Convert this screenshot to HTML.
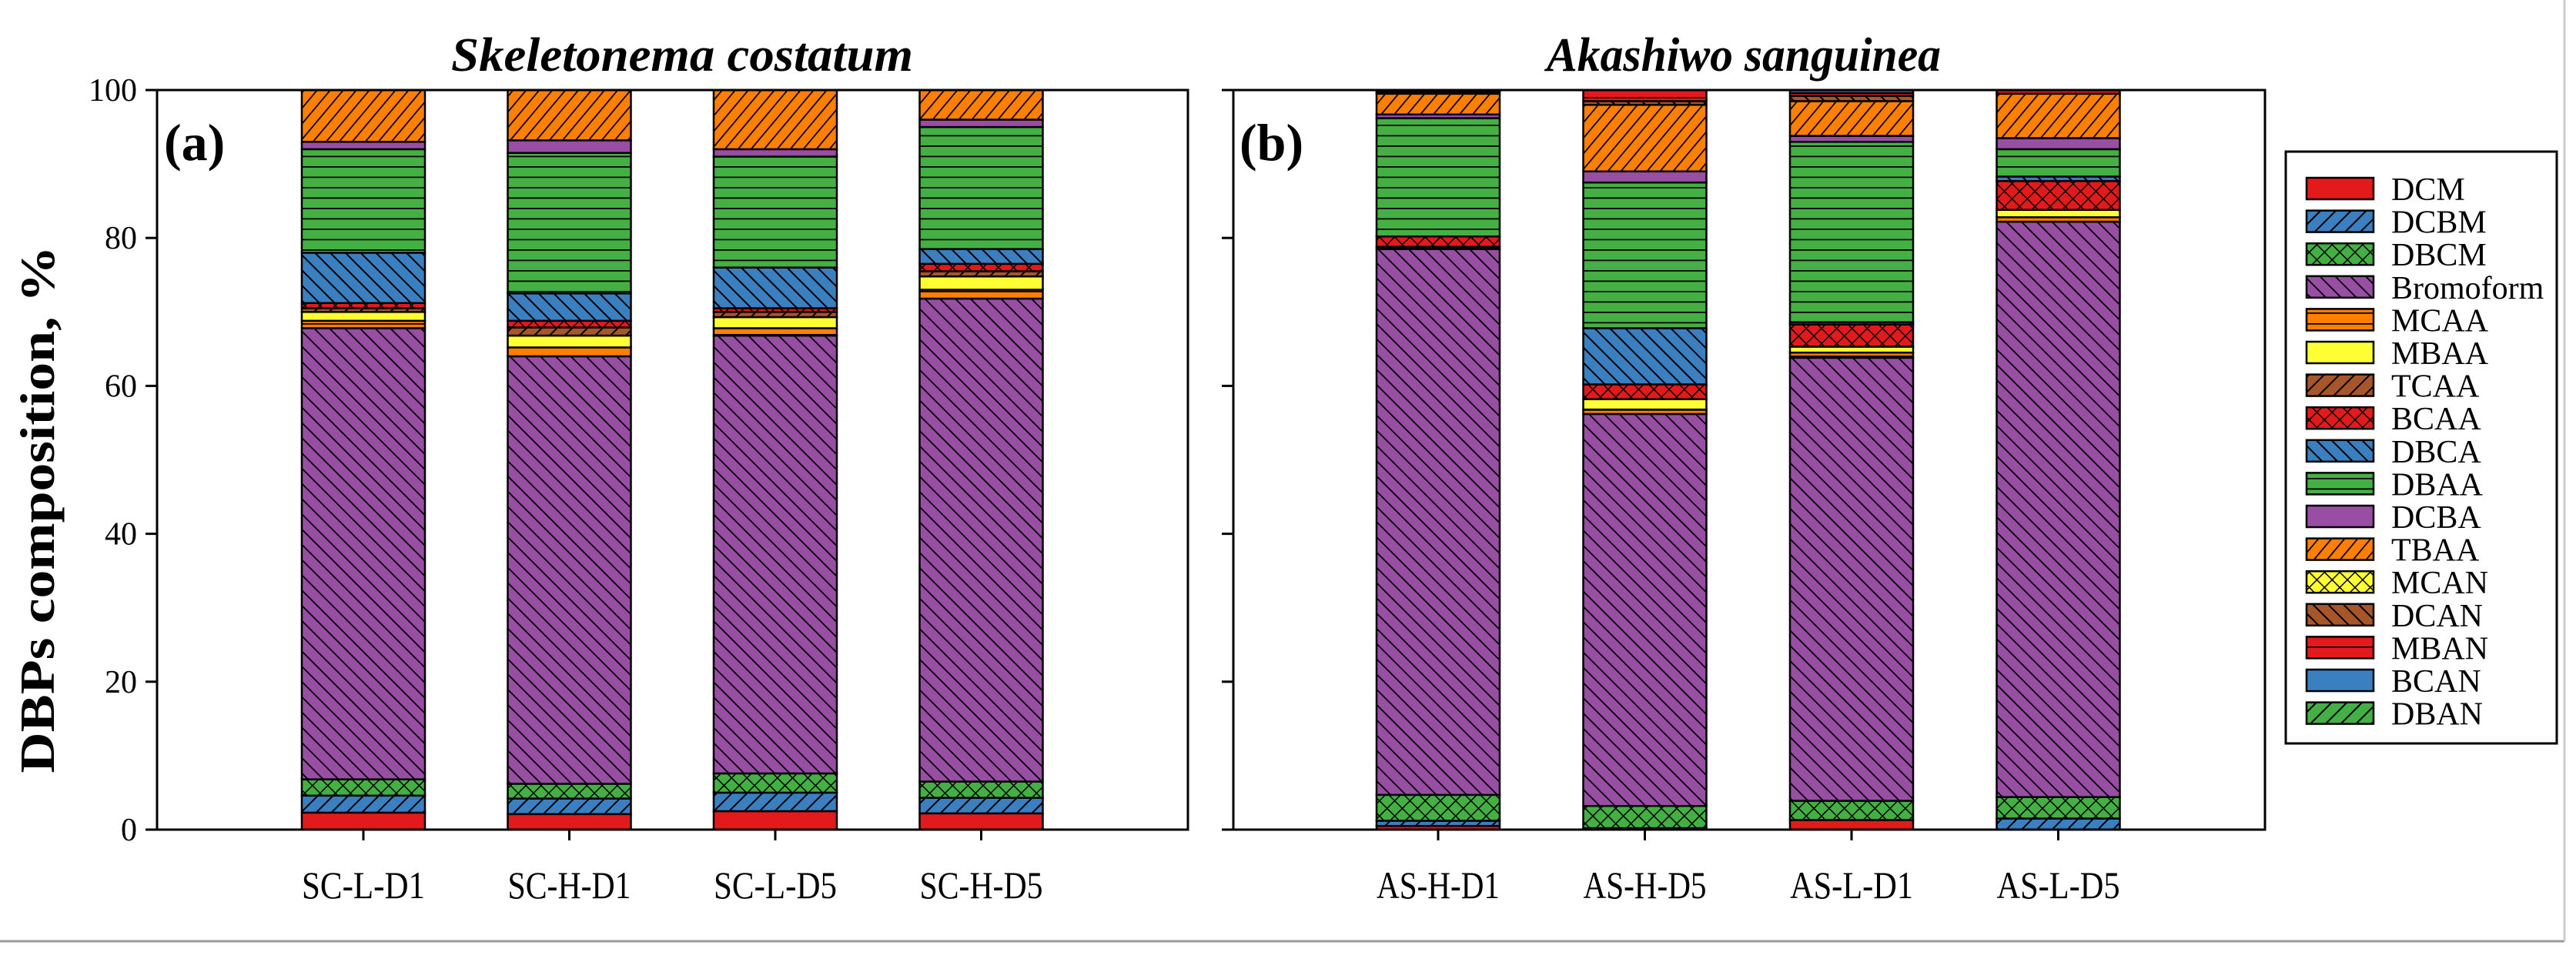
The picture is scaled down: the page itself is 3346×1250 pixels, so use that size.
<!DOCTYPE html>
<html><head><meta charset="utf-8"><style>
html,body{margin:0;padding:0;background:#fff;}
svg{display:block;}
text{font-family:"Liberation Serif",serif;}
</style></head><body>
<svg id="chart" width="3346" height="1250" viewBox="0 0 3346 1250" xmlns="http://www.w3.org/2000/svg">
<defs>
<pattern id="p-solid-red" width="10" height="10" patternUnits="userSpaceOnUse"><rect width="10" height="10" fill="#e31a1c"/></pattern>
<pattern id="p-dcbm" width="14" height="14" patternUnits="userSpaceOnUse" patternTransform="rotate(45)"><rect width="14" height="14" fill="#3a7fc0"/><line x1="0" y1="0" x2="0" y2="14" stroke="#000" stroke-width="4"/></pattern>
<pattern id="p-dbcm" width="14" height="14" patternUnits="userSpaceOnUse" patternTransform="rotate(45)"><rect width="14" height="14" fill="#44b044"/><line x1="0" y1="0" x2="0" y2="14" stroke="#000" stroke-width="3"/><line x1="0" y1="0" x2="14" y2="0" stroke="#000" stroke-width="3"/></pattern>
<pattern id="p-bromo" width="14" height="14" patternUnits="userSpaceOnUse" patternTransform="rotate(-45)"><rect width="14" height="14" fill="#974ea3"/><line x1="0" y1="0" x2="0" y2="14" stroke="#000" stroke-width="3.5"/></pattern>
<pattern id="p-mcaa" width="14" height="14" patternUnits="userSpaceOnUse"><rect width="14" height="14" fill="#ff8000"/><line x1="0" y1="0" x2="14" y2="0" stroke="#000" stroke-width="3.5"/></pattern>
<pattern id="p-mbaa" width="10" height="10" patternUnits="userSpaceOnUse"><rect width="10" height="10" fill="#ffff33"/></pattern>
<pattern id="p-tcaa" width="14" height="14" patternUnits="userSpaceOnUse" patternTransform="rotate(45)"><rect width="14" height="14" fill="#a65628"/><line x1="0" y1="0" x2="0" y2="14" stroke="#000" stroke-width="4"/></pattern>
<pattern id="p-bcaa" width="14" height="14" patternUnits="userSpaceOnUse" patternTransform="rotate(45)"><rect width="14" height="14" fill="#e31a1c"/><line x1="0" y1="0" x2="0" y2="14" stroke="#000" stroke-width="3"/><line x1="0" y1="0" x2="14" y2="0" stroke="#000" stroke-width="3"/></pattern>
<pattern id="p-dbca" width="14" height="14" patternUnits="userSpaceOnUse" patternTransform="rotate(-45)"><rect width="14" height="14" fill="#3a7fc0"/><line x1="0" y1="0" x2="0" y2="14" stroke="#000" stroke-width="4"/></pattern>
<pattern id="p-dbaa" width="14" height="13.5" patternUnits="userSpaceOnUse"><rect width="14" height="13.5" fill="#44b044"/><line x1="0" y1="0" x2="14" y2="0" stroke="#000" stroke-width="3.5"/></pattern>
<pattern id="p-dcba" width="10" height="10" patternUnits="userSpaceOnUse"><rect width="10" height="10" fill="#974ea3"/></pattern>
<pattern id="p-tbaa" width="13" height="13" patternUnits="userSpaceOnUse" patternTransform="rotate(40)"><rect width="13" height="13" fill="#ff8000"/><line x1="0" y1="0" x2="0" y2="13" stroke="#000" stroke-width="3.5"/></pattern>
<pattern id="p-mcan" width="14" height="14" patternUnits="userSpaceOnUse" patternTransform="rotate(45)"><rect width="14" height="14" fill="#ffff33"/><line x1="0" y1="0" x2="0" y2="14" stroke="#000" stroke-width="3"/><line x1="0" y1="0" x2="14" y2="0" stroke="#000" stroke-width="3"/></pattern>
<pattern id="p-dcan" width="14" height="14" patternUnits="userSpaceOnUse" patternTransform="rotate(-45)"><rect width="14" height="14" fill="#a65628"/><line x1="0" y1="0" x2="0" y2="14" stroke="#000" stroke-width="4"/></pattern>
<pattern id="p-mban" width="14" height="14" patternUnits="userSpaceOnUse"><rect width="14" height="14" fill="#e31a1c"/><line x1="0" y1="0" x2="14" y2="0" stroke="#000" stroke-width="3.5"/></pattern>
<pattern id="p-bcan" width="10" height="10" patternUnits="userSpaceOnUse"><rect width="10" height="10" fill="#3a7fc0"/></pattern>
<pattern id="p-dban" width="14" height="14" patternUnits="userSpaceOnUse" patternTransform="rotate(45)"><rect width="14" height="14" fill="#44b044"/><line x1="0" y1="0" x2="0" y2="14" stroke="#000" stroke-width="4"/></pattern>
</defs>
<line x1="0" y1="1223" x2="3331" y2="1223" stroke="#999" stroke-width="3"/>
<line x1="3331" y1="0" x2="3331" y2="1223" stroke="#ccc" stroke-width="3"/>
<g id="plots"></g>
</svg>
<script>
const seriesNames = ["DCM","DCBM","DBCM","Bromoform","MCAA","MBAA","TCAA","BCAA","DBCA","DBAA","DCBA","TBAA","MCAN","DCAN","MBAN","BCAN","DBAN"];
const seriesFills = ["p-solid-red","p-dcbm","p-dbcm","p-bromo","p-mcaa","p-mbaa","p-tcaa","p-bcaa","p-dbca","p-dbaa","p-dcba","p-tbaa","p-mcan","p-dcan","p-mban","p-bcan","p-dban"];
const catsA = ["SC-L-D1","SC-H-D1","SC-L-D5","SC-H-D5"];
const catsB = ["AS-H-D1","AS-H-D5","AS-L-D1","AS-L-D5"];
const yTicks = [0,20,40,60,80,100];
// segment values (%) per series; first 4 = panel a, last 4 = panel b
const vDCM  = [2.3,2.1,2.5,2.2, 0.5,0,1.3,0];
const vDCBM = [2.3,2.1,2.5,2.1, 0.7,0.2,0,1.5];
const vDBCM = [2.2,2.0,2.6,2.2, 3.5,3.0,2.6,2.9];
const vBromo= [61.0,57.8,59.2,65.3, 73.8,53.0,59.9,77.8];
const vMCAA = [1.0,1.2,1.0,1.2, 0.3,0.6,0.7,0.6];
const vMBAA = [1.2,1.6,1.5,1.8, 0,1.4,0.8,1.0];
const vTCAA = [0.5,1.1,0.7,0.7, 0,0,0,0];
const vBCAA = [0.7,0.9,0.5,1.0, 1.4,2.0,3.0,3.9];
const vDBCA = [6.8,3.7,5.5,2.0, 0,7.6,0.3,0.6];
const vDBAA = [14.0,19.0,15.0,16.5, 16.0,19.7,24.4,3.7];
const vDCBA = [1.0,1.7,1.0,1.0, 0.5,1.5,0.8,1.5];
const vTBAA = [7.0,6.8,8.0,4.0, 2.8,9.0,4.7,6.0];
const vMCAN = [0,0,0,0, 0,0,0,0];
const vDCAN = [0,0,0,0, 0.2,0.5,0.7,0];
const vMBAN = [0,0,0,0, 0.3,1.5,0.4,0.5];
const vBCAN = [0,0,0,0, 0,0,0.4,0];
const vDBAN = [0,0,0,0, 0,0,0,0];
const seriesValues = [vDCM,vDCBM,vDBCM,vBromo,vMCAA,vMBAA,vTCAA,vBCAA,vDBCA,vDBAA,vDCBA,vTBAA,vMCAN,vDCAN,vMBAN,vBCAN,vDBAN];

const NS="http://www.w3.org/2000/svg";
const root=document.getElementById('plots');
function mk(tag,attrs,parent){const e=document.createElementNS(NS,tag);for(const k in attrs)e.setAttribute(k,attrs[k]);(parent||root).appendChild(e);return e;}
const yTop=117,yBot=1078;
function yScale(v){return yBot-(v/100)*(yBot-yTop);}

const panels=[
 {x0:204,x1:1543,cats:catsA,off:0,centers0:472,step:267.5,title:"Skeletonema costatum",tx:886,tl:600,lab:"(a)",lx:213,labels:true,id:"a"},
 {x0:1602,x1:2942,cats:catsB,off:4,centers0:1868,step:268.5,title:"Akashiwo sanguinea",tx:2265,tl:512,lab:"(b)",lx:1610,labels:false,id:"b"}
];
const barW=160;
panels.forEach(p=>{
  const g=mk('g',{});
  
  
  const t=mk('text',{x:p.tx,y:92,'text-anchor':'middle','font-size':62,'font-weight':'bold','font-style':'italic',textLength:p.tl,lengthAdjust:'spacingAndGlyphs'},g);
  t.textContent=p.title;
  
  
  p.cats.forEach((c,i)=>{
    const cx=p.centers0+i*p.step;
    const bi=p.off+i;
    let cum=0;
    const bg=mk('g',{},g);
    
    
    seriesValues.forEach((arr,s)=>{
      const v=arr[bi]; if(!v) return;
      const yA=yScale(cum+v), yB=yScale(cum);
      cum+=v;
      const r=mk('rect',{x:cx-barW/2,y:yA,width:barW,height:yB-yA,fill:'url(#'+seriesFills[s]+')',stroke:'#000','stroke-width':2.5},bg);
      
      
    });
    mk('line',{x1:cx,y1:yBot,x2:cx,y2:yBot+14,stroke:'#000','stroke-width':3},g);
    const xl=mk('text',{x:cx,y:1167,'text-anchor':'middle','font-size':50,textLength:160,lengthAdjust:'spacingAndGlyphs'},g);
    xl.textContent=c;
    
    
  });
  const fr=mk('rect',{x:p.x0,y:yTop,width:p.x1-p.x0,height:yBot-yTop,fill:'none',stroke:'#000','stroke-width':3},g);
  
  
  yTicks.forEach(v=>{
    const y=yScale(v);
    mk('line',{x1:p.x0-15,y1:y,x2:p.x0,y2:y,stroke:'#000','stroke-width':3},g);
    if(p.labels){
      const tl=mk('text',{x:p.x0-26,y:y+14,'text-anchor':'end','font-size':42},g);
      tl.textContent=v;
      
      
    }
  });
  const pl=mk('text',{x:p.lx,y:208,'font-size':68,'font-weight':'bold'},g);
  pl.textContent=p.lab;
  
  
});
const yt=mk('text',{x:0,y:0,'text-anchor':'middle','font-size':64,'font-weight':'bold',textLength:685,lengthAdjust:'spacingAndGlyphs',transform:'translate(70,662) rotate(-90)'});
yt.textContent="DBPs composition, %";



const lg=mk('g',{});


mk('rect',{x:2969,y:197,width:352,height:769,fill:'#fff',stroke:'#000','stroke-width':3},lg);
seriesNames.forEach((n,i)=>{
  const cy=245+i*42.6;
  const e=mk('g',{},lg);
  
  
  mk('rect',{x:2996,y:cy-14,width:87,height:28,fill:'url(#'+seriesFills[i]+')',stroke:'#000','stroke-width':2.5},e);
  const t=mk('text',{x:3106,y:cy+15,'font-size':42},e);
  t.textContent=n;
});
</script>
</body></html>
